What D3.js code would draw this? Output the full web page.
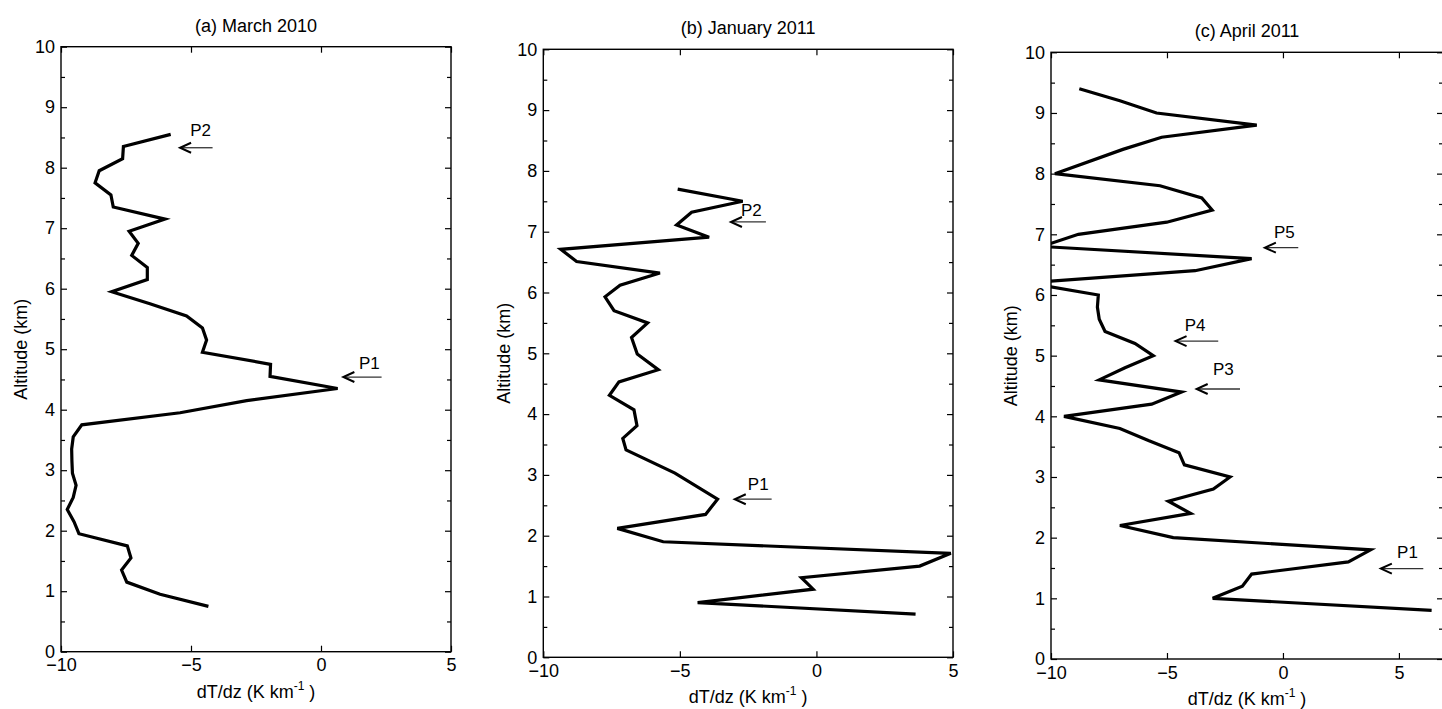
<!DOCTYPE html>
<html><head><meta charset="utf-8">
<script src="https://cdn.jsdelivr.net/npm/d3@7"></script>
<style>
body{margin:0;background:#fff}
svg{display:block}
text{font-family:"Liberation Sans",Arial,Helvetica,sans-serif;fill:#000}
</style></head>
<body><svg id="chart" width="1442" height="709"></svg>
<script>
// ---------------- data ----------------
const titles = ["(a) March 2010", "(b) January 2011", "(c) April 2011"];
const xTickValues = [-10, -5, 0, 5];
const yTickValues = [0, 1, 2, 3, 4, 5, 6, 7, 8, 9, 10];
const yHalfTicks = [0.5, 1.5, 2.5, 3.5, 4.5, 5.5, 6.5, 7.5, 8.5, 9.5];
const xLabel = "dT/dz (K km";
const yLabel = "Altitude (km)";

// (a) March 2010
const altA  = [0.75, 0.95, 1.15, 1.35, 1.55, 1.75, 1.95, 2.15, 2.35, 2.55, 2.75, 2.95, 3.15, 3.35, 3.55, 3.75, 3.95, 4.15, 4.35, 4.55, 4.75, 4.95, 5.15, 5.35, 5.55, 5.75, 5.95, 6.15, 6.35, 6.55, 6.75, 6.95, 7.15, 7.35, 7.55, 7.75, 7.95, 8.15, 8.35, 8.55];
const dTdzA = [-4.33, -6.19, -7.47, -7.67, -7.31, -7.45, -9.31, -9.50, -9.76, -9.53, -9.42, -9.56, -9.58, -9.59, -9.53, -9.20, -5.42, -2.86, 0.64, -1.96, -1.94, -4.56, -4.40, -4.56, -5.17, -6.58, -8.05, -6.68, -6.68, -7.28, -7.03, -7.38, -6.00, -7.99, -8.08, -8.69, -8.53, -7.63, -7.60, -5.78];

// (b) January 2011
const altB  = [0.71, 0.90, 1.12, 1.31, 1.50, 1.71, 1.90, 2.12, 2.35, 2.60, 3.03, 3.41, 3.60, 3.81, 4.07, 4.31, 4.53, 4.73, 4.99, 5.26, 5.50, 5.70, 5.93, 6.12, 6.32, 6.51, 6.71, 6.91, 7.11, 7.32, 7.50, 7.70];
const dTdzB = [3.63, -4.35, -0.12, -0.55, 3.78, 4.92, -5.61, -7.29, -4.06, -3.62, -5.18, -6.97, -7.09, -6.57, -6.68, -7.58, -7.23, -5.79, -6.56, -6.77, -6.18, -7.41, -7.74, -7.19, -5.73, -8.78, -9.36, -3.93, -5.12, -4.57, -2.70, -5.08];

// (c) April 2011
const altC  = [0.80, 1.00, 1.20, 1.40, 1.60, 1.80, 2.00, 2.20, 2.40, 2.60, 2.80, 3.00, 3.20, 3.40, 3.60, 3.80, 4.00, 4.20, 4.40, 4.60, 4.80, 5.00, 5.20, 5.40, 5.60, 5.80, 6.00, 6.20, 6.40, 6.60, 6.80, 7.00, 7.20, 7.40, 7.60, 7.80, 8.00, 8.40, 8.60, 8.80, 9.00, 9.20, 9.40];
const dTdzC = [6.41, -3.03, -1.75, -1.35, 2.82, 3.78, -4.73, -7.03, -3.98, -4.94, -3.00, -2.28, -4.25, -4.48, -5.80, -7.03, -9.44, -5.66, -4.37, -7.92, -6.81, -5.59, -6.38, -7.67, -7.92, -8.00, -7.96, -11.0, -3.79, -1.35, -10.4, -8.82, -5.01, -3.05, -3.50, -5.30, -9.83, -6.90, -5.23, -1.13, -5.45, -7.03, -8.78];

// annotation arrows (data units): label, tip [x, alt], tail x, label centre [x, alt]
const arrowLabelsA = ["P2", "P1"];
const arrowTipsA   = [[-5.42, 8.33], [0.86, 4.54]];
const arrowTailsA  = [-4.17, 2.33];
const labelPosA    = [[-4.63, 8.62], [1.86, 4.77]];

const arrowLabelsB = ["P2", "P1"];
const arrowTipsB   = [[-3.13, 7.16], [-2.99, 2.60]];
const arrowTailsB  = [-1.85, -1.64];
const labelPosB    = [[-2.38, 7.36], [-2.13, 2.86]];

const arrowLabelsC = ["P5", "P4", "P3", "P1"];
const arrowTipsC   = [[-0.78, 6.78], [-4.63, 5.24], [-3.72, 4.45], [4.22, 1.49]];
const arrowTailsC  = [0.66, -2.79, -1.85, 6.05];
const labelPosC    = [[0.06, 7.04], [-3.79, 5.51], [-2.57, 4.78], [5.37, 1.77]];

// ---------------- layout ----------------
const panels = [
  {left: 61,    right: 451,  top: 46.7, bottom: 651.7, xmax: 5,   alt: altA, val: dTdzA,
   labels: arrowLabelsA, tips: arrowTipsA, tails: arrowTailsA, lpos: labelPosA},
  {left: 543.3, right: 953,  top: 49.3, bottom: 657.3, xmax: 5,   alt: altB, val: dTdzB,
   labels: arrowLabelsB, tips: arrowTipsB, tails: arrowTailsB, lpos: labelPosB},
  {left: 1051,  right: 1443, top: 52.3, bottom: 659,   xmax: 6.9, alt: altC, val: dTdzC,
   labels: arrowLabelsC, tips: arrowTipsC, tails: arrowTailsC, lpos: labelPosC}
];

const svg = d3.select("#chart");

panels.forEach((p, i) => {
  const w = p.right - p.left, h = p.bottom - p.top;
  const x = d3.scaleLinear().domain([-10, p.xmax]).range([0, w]);
  const y = d3.scaleLinear().domain([0, 10]).range([h, 0]);
  const g = svg.append("g").attr("transform", `translate(${p.left},${p.top})`);

  const cid = "clip" + i;
  g.append("clipPath").attr("id", cid).append("rect").attr("width", w).attr("height", h);

  const xb = g.append("g").attr("transform", `translate(0,${h})`)
    .call(d3.axisBottom(x).tickValues(xTickValues).tickSize(-6).tickSizeOuter(0).tickPadding(7).tickFormat(d3.format("d")));
  const xt = g.append("g")
    .call(d3.axisTop(x).tickValues(xTickValues).tickSize(-6).tickSizeOuter(0).tickFormat(""));
  const yl = g.append("g")
    .call(d3.axisLeft(y).tickValues(yTickValues).tickSize(-6).tickSizeOuter(0).tickPadding(6).tickFormat(d3.format("d")));
  const yl2 = g.append("g")
    .call(d3.axisLeft(y).tickValues(yHalfTicks).tickSize(-4).tickSizeOuter(0).tickFormat(""));
  const yr = g.append("g").attr("transform", `translate(${w},0)`)
    .call(d3.axisRight(y).tickValues(yTickValues).tickSize(-6).tickSizeOuter(0).tickFormat(""));
  const yr2 = g.append("g").attr("transform", `translate(${w},0)`)
    .call(d3.axisRight(y).tickValues(yHalfTicks).tickSize(-4).tickSizeOuter(0).tickFormat(""));

  [xb, xt, yl, yl2, yr, yr2].forEach(a => {
    a.select(".domain").remove();
    a.selectAll("line").attr("stroke", "#000").attr("stroke-width", 1.2);
    a.selectAll("text").attr("font-size", 18).attr("font-family", "'Liberation Sans',Arial,sans-serif").attr("fill", "#000");
  });

  g.append("rect").attr("width", w).attr("height", h)
    .attr("fill", "none").attr("stroke", "#000").attr("stroke-width", 1.4);

  const line = d3.line().x(d => x(d[1])).y(d => y(d[0]));
  const pts = p.alt.map((a, k) => [a, p.val[k]]);
  g.append("path").datum(pts).attr("clip-path", `url(#${cid})`)
    .attr("d", line).attr("fill", "none").attr("stroke", "#000")
    .attr("stroke-width", 3.2).attr("stroke-linejoin", "miter").attr("stroke-miterlimit", 4);

  p.labels.forEach((lab, k) => {
    const tx = x(p.tips[k][0]), ty = y(p.tips[k][1]);
    const ex = x(p.tails[k]);
    g.append("line").attr("x1", ex).attr("y1", ty).attr("x2", tx + 1).attr("y2", ty)
      .attr("stroke", "#333").attr("stroke-width", 1.3);
    g.append("path").attr("d", `M${tx + 11},${ty - 5}L${tx},${ty}L${tx + 11},${ty + 5}`)
      .attr("fill", "none").attr("stroke", "#000").attr("stroke-width", 2);
    g.append("text").attr("x", x(p.lpos[k][0])).attr("y", y(p.lpos[k][1]))
      .attr("dy", "0.36em").attr("text-anchor", "middle").attr("font-size", 17).text(lab);
  });

  g.append("text").attr("x", w / 2).attr("y", -15).attr("text-anchor", "middle")
    .attr("font-size", 18).text(titles[i]);

  const xl = g.append("text").attr("x", w / 2).attr("y", h + 46).attr("text-anchor", "middle").attr("font-size", 18);
  xl.append("tspan").text(xLabel);
  xl.append("tspan").attr("dy", -8).attr("font-size", 12).text("-1");
  xl.append("tspan").attr("dy", 8).text(" )");

  g.append("text").attr("transform", `translate(-40,${h / 2}) rotate(-90)`)
    .attr("text-anchor", "middle").attr("dy", "0.36em").attr("font-size", 18).text(yLabel);
});
</script></body></html>
